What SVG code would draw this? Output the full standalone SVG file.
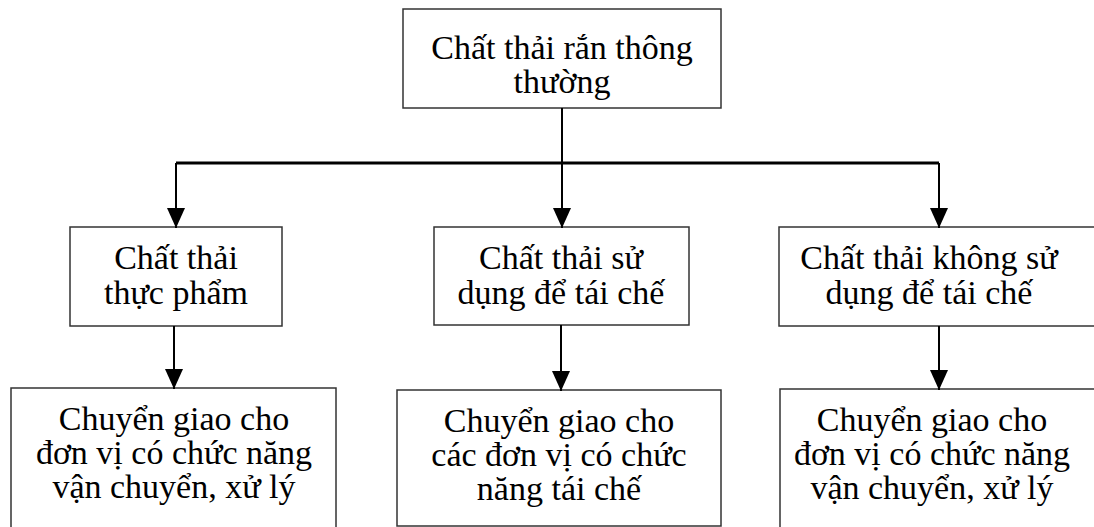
<svg xmlns="http://www.w3.org/2000/svg" width="1094" height="527" viewBox="0 0 1094 527">
  <style>
    .box { fill: #ffffff; stroke: #333333; stroke-width: 1.5; }
    .lbl { font-family: "Liberation Serif", "Times New Roman", serif; font-size: 34px; fill: #000000; text-anchor: middle; }
    .wire { fill: none; stroke: #000000; stroke-width: 2; }
    .bar { fill: none; stroke: #000000; stroke-width: 3; }
  </style>
  <defs>
    <marker id="arrow" markerUnits="userSpaceOnUse" markerWidth="20" markerHeight="20" refX="20" refY="9" orient="auto">
      <path d="M0,0 L20,9 L0,18 Z" fill="#000000"/>
    </marker>
  </defs>
  <rect width="1094" height="527" fill="#ffffff"/>

  <g id="n-root">
    <rect class="box" x="403" y="9" width="318" height="99"/>
    <text class="lbl" x="562" y="59">Chất thải rắn thông</text>
    <text class="lbl" x="562" y="93">thường</text>
  </g>

  <g id="n-food">
    <rect class="box" x="70" y="227" width="212" height="99"/>
    <text class="lbl" x="176" y="269">Chất thải</text>
    <text class="lbl" x="176" y="304">thực phẩm</text>
  </g>

  <g id="n-recycle">
    <rect class="box" x="434" y="227" width="255" height="98"/>
    <text class="lbl" x="561" y="269">Chất thải sử</text>
    <text class="lbl" x="561" y="304">dụng để tái chế</text>
  </g>

  <g id="n-nonrecycle">
    <rect class="box" x="779" y="227" width="320" height="99"/>
    <text class="lbl" x="929" y="269">Chất thải không sử</text>
    <text class="lbl" x="929" y="304">dụng để tái chế</text>
  </g>

  <g id="n-food-out">
    <rect class="box" x="11" y="388" width="325" height="145"/>
    <text class="lbl" x="174" y="430">Chuyển giao cho</text>
    <text class="lbl" x="174" y="464">đơn vị có chức năng</text>
    <text class="lbl" x="174" y="498">vận chuyển, xử lý</text>
  </g>

  <g id="n-recycle-out">
    <rect class="box" x="397" y="390" width="324" height="136"/>
    <text class="lbl" x="559" y="432">Chuyển giao cho</text>
    <text class="lbl" x="559" y="466">các đơn vị có chức</text>
    <text class="lbl" x="559" y="500">năng tái chế</text>
  </g>

  <g id="n-nonrecycle-out">
    <rect class="box" x="780" y="389" width="320" height="145"/>
    <text class="lbl" x="932" y="431">Chuyển giao cho</text>
    <text class="lbl" x="932" y="465">đơn vị có chức năng</text>
    <text class="lbl" x="932" y="499">vận chuyển, xử lý</text>
  </g>

  <g id="connectors">
    <line class="wire" x1="562" y1="108" x2="562" y2="163"/>
    <line class="bar" x1="176" y1="163" x2="939" y2="163"/>
    <line class="wire" x1="176" y1="163" x2="176" y2="228" marker-end="url(#arrow)"/>
    <line class="wire" x1="562" y1="163" x2="562" y2="228" marker-end="url(#arrow)"/>
    <line class="wire" x1="939" y1="163" x2="939" y2="228" marker-end="url(#arrow)"/>
    <line class="wire" x1="174" y1="326" x2="174" y2="389" marker-end="url(#arrow)"/>
    <line class="wire" x1="561" y1="325" x2="561" y2="391" marker-end="url(#arrow)"/>
    <line class="wire" x1="939" y1="326" x2="939" y2="390" marker-end="url(#arrow)"/>
  </g>
</svg>
